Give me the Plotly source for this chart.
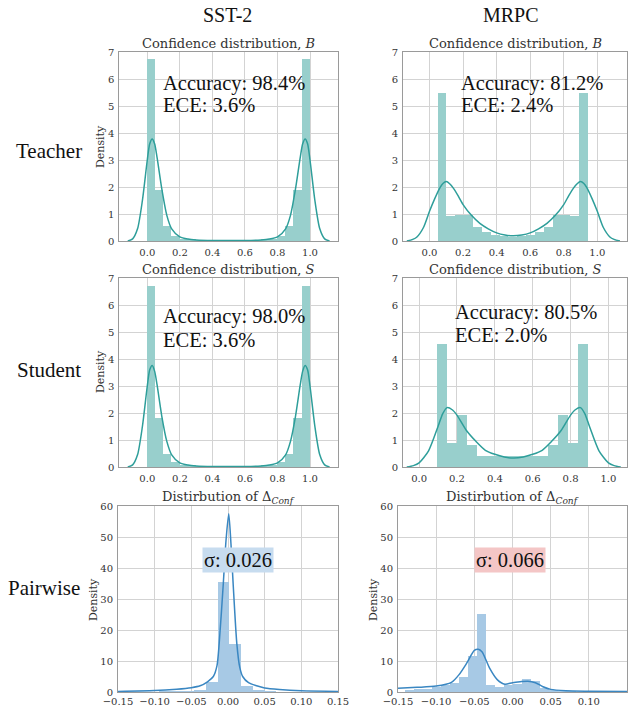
import plotly.graph_objects as go

W, H = 634, 709

# ---------------- data ----------------
col_labels = ["SST-2", "MRPC"]
row_labels = ["Teacher", "Student", "Pairwise"]

conf_ticks = [0.0, 0.2, 0.4, 0.6, 0.8, 1.0]
conf_tick_text = ["0.0", "0.2", "0.4", "0.6", "0.8", "1.0"]
conf_yticks = [0, 1, 2, 3, 4, 5, 6, 7]
delta_ticks = [-0.15, -0.10, -0.05, 0.0, 0.05, 0.10, 0.15]
delta_tick_text = ["\u22120.15", "\u22120.10", "\u22120.05", "0.00", "0.05", "0.10", "0.15"]
delta_yticks = [0, 10, 20, 30, 40, 50, 60]

# SST-2 teacher
sst_t_bin_start, sst_t_bin_width = 0.0, 0.05
sst_t_hist = [6.75, 1.9, 0.55, 0.18, 0.06, 0.04, 0.03, 0.02, 0.02, 0.02,
              0.02, 0.02, 0.02, 0.03, 0.04, 0.06, 0.2, 0.55, 1.9, 6.75]
sst_t_kde_x = [-0.12, -0.09, -0.06, -0.03, 0.0, 0.015, 0.03, 0.045, 0.06, 0.09, 0.12, 0.15, 0.2,
               0.25, 0.3, 0.4, 0.5, 0.6, 0.7, 0.75, 0.8, 0.85, 0.88, 0.91, 0.94, 0.955, 0.97,
               0.985, 1.0, 1.03, 1.06, 1.09, 1.12]
sst_t_kde_y = [0.0, 0.08, 0.45, 1.5, 3.0, 3.6, 3.78, 3.6, 3.1, 1.9, 0.95, 0.45, 0.15,
               0.07, 0.04, 0.02, 0.02, 0.02, 0.04, 0.07, 0.15, 0.45, 0.95, 1.9, 3.1, 3.6, 3.78,
               3.6, 3.0, 1.5, 0.45, 0.08, 0.0]

# SST-2 student
sst_s_bin_start, sst_s_bin_width = 0.0, 0.05
sst_s_hist = [6.72, 1.82, 0.5, 0.17, 0.06, 0.04, 0.03, 0.02, 0.02, 0.02,
              0.02, 0.02, 0.02, 0.03, 0.04, 0.06, 0.17, 0.5, 1.82, 6.72]
sst_s_kde_x = sst_t_kde_x
sst_s_kde_y = [0.0, 0.08, 0.45, 1.5, 3.0, 3.6, 3.76, 3.55, 3.05, 1.85, 0.95, 0.45, 0.15,
               0.07, 0.04, 0.02, 0.02, 0.02, 0.04, 0.07, 0.15, 0.45, 0.95, 1.85, 3.05, 3.55, 3.76,
               3.6, 3.0, 1.5, 0.45, 0.08, 0.0]

# MRPC teacher
mrpc_t_bin_start, mrpc_t_bin_width = 0.048, 0.0528
mrpc_t_hist = [5.5, 0.92, 0.95, 0.95, 0.52, 0.35, 0.22, 0.17, 0.15,
               0.17, 0.22, 0.35, 0.52, 0.95, 0.95, 0.92, 5.5]
mrpc_t_kde_x = [-0.135, -0.1, -0.075, -0.036, 0.0, 0.03, 0.06, 0.08, 0.1, 0.12, 0.143, 0.17,
                0.2, 0.25, 0.3, 0.35, 0.4, 0.45, 0.5, 0.55, 0.6, 0.65, 0.7, 0.75, 0.8, 0.83,
                0.857, 0.88, 0.9, 0.92, 0.94, 0.97, 1.0, 1.036, 1.075, 1.1, 1.135]
mrpc_t_kde_y = [0.0, 0.06, 0.15, 0.5, 1.1, 1.55, 1.95, 2.13, 2.2, 2.12, 1.95, 1.68,
                1.35, 0.95, 0.65, 0.45, 0.3, 0.22, 0.19, 0.22, 0.3, 0.45, 0.65, 0.95, 1.35, 1.68,
                1.95, 2.12, 2.2, 2.13, 1.95, 1.55, 1.1, 0.5, 0.15, 0.06, 0.0]

# MRPC student
mrpc_s_bin_start, mrpc_s_bin_width = 0.093, 0.0533
mrpc_s_hist = [4.55, 0.88, 1.92, 0.82, 0.42, 0.42, 0.42, 0.42, 0.42, 0.42, 0.42,
               0.82, 1.92, 0.88, 4.55]
mrpc_s_kde_x = [-0.065, -0.03, 0.0, 0.05, 0.1, 0.125, 0.148, 0.175, 0.2, 0.25, 0.3, 0.35, 0.4,
                0.45, 0.5, 0.55, 0.6, 0.65, 0.7, 0.75, 0.8, 0.825, 0.852, 0.875, 0.9, 0.95,
                1.0, 1.03, 1.065]
mrpc_s_kde_y = [0.0, 0.05, 0.15, 0.6, 1.5, 1.98, 2.2, 2.12, 1.92, 1.35, 0.95, 0.62, 0.47,
                0.37, 0.33, 0.37, 0.47, 0.62, 0.95, 1.35, 1.92, 2.12, 2.2, 1.98, 1.5, 0.6,
                0.15, 0.05, 0.0]

# SST-2 pairwise delta
sst_d_bin_start, sst_d_bin_width = -0.094, 0.016
sst_d_hist = [0.05, 0.1, 0.2, 0.6, 3.3, 35.6, 15.6, 1.9, 0.4, 0.1]
sst_d_kde_x = [-0.15, -0.1, -0.07, -0.05, -0.038, -0.028, -0.02, -0.015, -0.012, -0.0064,
               -0.003, 0.001, 0.004, 0.007, 0.012, 0.016, 0.02, 0.028, 0.039, 0.05, 0.07,
               0.1, 0.15]
sst_d_kde_y = [0.2, 0.45, 0.9, 1.4, 2.0, 3.3, 5.0, 8.5, 15.7, 35.0,
               48.0, 57.5, 48.0, 35.0, 15.7, 8.0, 5.0, 3.0, 2.0, 1.3, 0.8,
               0.4, 0.2]

# MRPC pairwise delta
mrpc_d_bin_start, mrpc_d_bin_width = -0.1409, 0.0118
mrpc_d_hist = [0.8, 0.9, 1.1, 1.5, 2.2, 3.0, 5.0, 11.5, 25.2, 2.3, 1.5, 2.2, 2.6,
               4.2, 3.6, 1.2, 0.5, 0.3, 0.2]
mrpc_d_kde_x = [-0.15, -0.125, -0.1, -0.08, -0.07, -0.06, -0.05, -0.045, -0.04, -0.03, -0.02,
                -0.01, 0.0, 0.01, 0.02, 0.03, 0.04, 0.05, 0.07, 0.1, 0.15]
mrpc_d_kde_y = [1.2, 1.5, 1.9, 3.1, 5.6, 9.3, 13.4, 13.8, 13.0, 7.7, 4.0,
                2.5, 3.0, 3.3, 3.5, 3.0, 1.7, 0.85, 0.4, 0.25, 0.15]

accuracy_text = ["Accuracy: 98.4%", "Accuracy: 81.2%", "Accuracy: 98.0%", "Accuracy: 80.5%"]
ece_text = ["ECE: 3.6%", "ECE: 2.4%", "ECE: 3.6%", "ECE: 2.0%"]
sigma_text = ["\u03c3: 0.026", "\u03c3: 0.066"]

# ---------------- styling ----------------
TEAL_BAR = "#98cfcc"
TEAL_LINE = "#2e9e9a"
BLUE_BAR = "#a7c9e5"
BLUE_LINE = "#3a87c2"
GRID = "#d3d3d3"
FRAME = "#9a9a9a"
TICKC = "#333333"
SERIF_TICK = "DejaVu Serif"
SERIF_BIG = "Liberation Serif"


def px(x):
    return x / W


def py(y):
    return 1 - y / H


# panel pixel boxes: (left, right, top, bottom)
panels = [
    (119.3, 338, 52, 241),   # TL
    (403, 627, 52, 241),     # TR
    (119.3, 338, 278, 467),  # ML
    (403, 627, 278, 467),    # MR
    (118, 338, 506, 692),    # BL
    (398, 627, 506, 692),    # BR
]
xranges = [[-0.172, 1.172], [-0.158, 1.177], [-0.172, 1.172], [-0.085, 1.098],
           [-0.15, 0.15], [-0.15, 0.15]]

series = [
    (sst_t_bin_start, sst_t_bin_width, sst_t_hist, sst_t_kde_x, sst_t_kde_y, TEAL_BAR, TEAL_LINE),
    (mrpc_t_bin_start, mrpc_t_bin_width, mrpc_t_hist, mrpc_t_kde_x, mrpc_t_kde_y, TEAL_BAR, TEAL_LINE),
    (sst_s_bin_start, sst_s_bin_width, sst_s_hist, sst_s_kde_x, sst_s_kde_y, TEAL_BAR, TEAL_LINE),
    (mrpc_s_bin_start, mrpc_s_bin_width, mrpc_s_hist, mrpc_s_kde_x, mrpc_s_kde_y, TEAL_BAR, TEAL_LINE),
    (sst_d_bin_start, sst_d_bin_width, sst_d_hist, sst_d_kde_x, sst_d_kde_y, BLUE_BAR, BLUE_LINE),
    (mrpc_d_bin_start, mrpc_d_bin_width, mrpc_d_hist, mrpc_d_kde_x, mrpc_d_kde_y, BLUE_BAR, BLUE_LINE),
]

fig = go.Figure()
layout = dict(
    width=W, height=H, margin=dict(l=0, r=0, t=0, b=0, autoexpand=False),
    paper_bgcolor="white", plot_bgcolor="white", showlegend=False,
    bargap=0,
)

annotations = []

for i, ((l, r, t, b), xr, s) in enumerate(zip(panels, xranges, series)):
    n = i + 1
    xa = "x" if n == 1 else f"x{n}"
    ya = "y" if n == 1 else f"y{n}"
    start, width, hist, kx, ky, bc, lc = s
    edges = [start + k * width for k in range(len(hist))]
    fig.add_trace(go.Bar(x=edges, y=hist, width=width, offset=0,
                         marker=dict(color=bc, line=dict(width=0)),
                         xaxis=xa, yaxis=ya, hoverinfo="skip"))
    fig.add_trace(go.Scatter(x=kx, y=ky, mode="lines",
                             line=dict(color=lc, width=1.5, shape="spline", smoothing=0.7),
                             xaxis=xa, yaxis=ya, hoverinfo="skip"))
    is_delta = i >= 4
    xkey = "xaxis" if n == 1 else f"xaxis{n}"
    ykey = "yaxis" if n == 1 else f"yaxis{n}"
    layout[xkey] = dict(
        domain=[px(l), px(r)], anchor=ya, range=xr, automargin=False,
        tickvals=delta_ticks if is_delta else conf_ticks,
        ticktext=delta_tick_text if is_delta else conf_tick_text,
        showgrid=True, gridcolor=GRID, gridwidth=1, zeroline=False,
        showline=True, linecolor=FRAME, linewidth=1, mirror=True,
        ticks="", tickfont=dict(family=SERIF_TICK, size=10, color=TICKC),
        ticklabelstandoff=0 if is_delta else 2,
    )
    layout[ykey] = dict(
        domain=[py(b), py(t)], anchor=xa, automargin=False,
        range=[0, 60] if is_delta else [0, 7],
        tickvals=delta_yticks if is_delta else conf_yticks,
        showgrid=True, gridcolor=GRID, gridwidth=1, zeroline=False,
        showline=True, linecolor=FRAME, linewidth=1, mirror=True,
        ticks="", tickfont=dict(family=SERIF_TICK, size=10, color=TICKC),
        ticklabelstandoff=2,
    )
    # panel title
    if is_delta:
        title = "Distirbution of \u0394<sub><i>Conf</i></sub>"
    else:
        title = "Confidence distribution, <i>B</i>" if i < 2 else "Confidence distribution, <i>S</i>"
    annotations.append(dict(text=title, xref="paper", yref="paper",
                            x=px((l + r) / 2), y=py(t - 9), xanchor="center", yanchor="middle",
                            showarrow=False,
                            font=dict(family=SERIF_TICK, size=13, color="#333333")))

# Density labels
for (x, y) in [(100, 147), (100, 372), (93, 600), (373, 600)]:
    annotations.append(dict(text="Density", xref="paper", yref="paper", x=px(x), y=py(y),
                            xanchor="center", yanchor="middle", textangle=-90, showarrow=False,
                            font=dict(family=SERIF_TICK, size=11, color="#333333")))

# accuracy / ECE text
acc_pos = [(160.7, 83, 105), (459.3, 83, 105), (160.7, 316.5, 340), (452.7, 312, 335)]
for (x, y1, y2), a, e in zip(acc_pos, accuracy_text, ece_text):
    annotations.append(dict(text=a, xref="paper", yref="paper", x=px(x), y=py(y1),
                            xanchor="left", yanchor="middle", showarrow=False,
                            font=dict(family=SERIF_BIG, size=20.5, color="#111111")))
    annotations.append(dict(text=e, xref="paper", yref="paper", x=px(x), y=py(y2),
                            xanchor="left", yanchor="middle", showarrow=False,
                            font=dict(family=SERIF_BIG, size=20.5, color="#111111")))

# sigma boxes
for (x, y), txt, bg in zip([(237.5, 559.7), (509.7, 559.7)], sigma_text, ["#c7dcef", "#f4c6c6"]):
    annotations.append(dict(text=txt, xref="paper", yref="paper", x=px(x), y=py(y),
                            xanchor="center", yanchor="middle", showarrow=False,
                            bgcolor=bg, borderpad=1,
                            font=dict(family=SERIF_BIG, size=20.5, color="#111111")))

# column headers
for x, txt in zip([227, 511], col_labels):
    annotations.append(dict(text=txt, xref="paper", yref="paper", x=px(x), y=py(15),
                            xanchor="center", yanchor="middle", showarrow=False,
                            font=dict(family=SERIF_BIG, size=20, color="#111111")))

# row labels
for (x, y), txt in zip([(48.5, 150.5), (48.5, 370), (44, 588)], row_labels):
    annotations.append(dict(text=txt, xref="paper", yref="paper", x=px(x), y=py(y),
                            xanchor="center", yanchor="middle", showarrow=False,
                            font=dict(family=SERIF_BIG, size=21, color="#111111")))

layout["annotations"] = annotations
fig.update_layout(**layout)
fig.write_html("out.html")
